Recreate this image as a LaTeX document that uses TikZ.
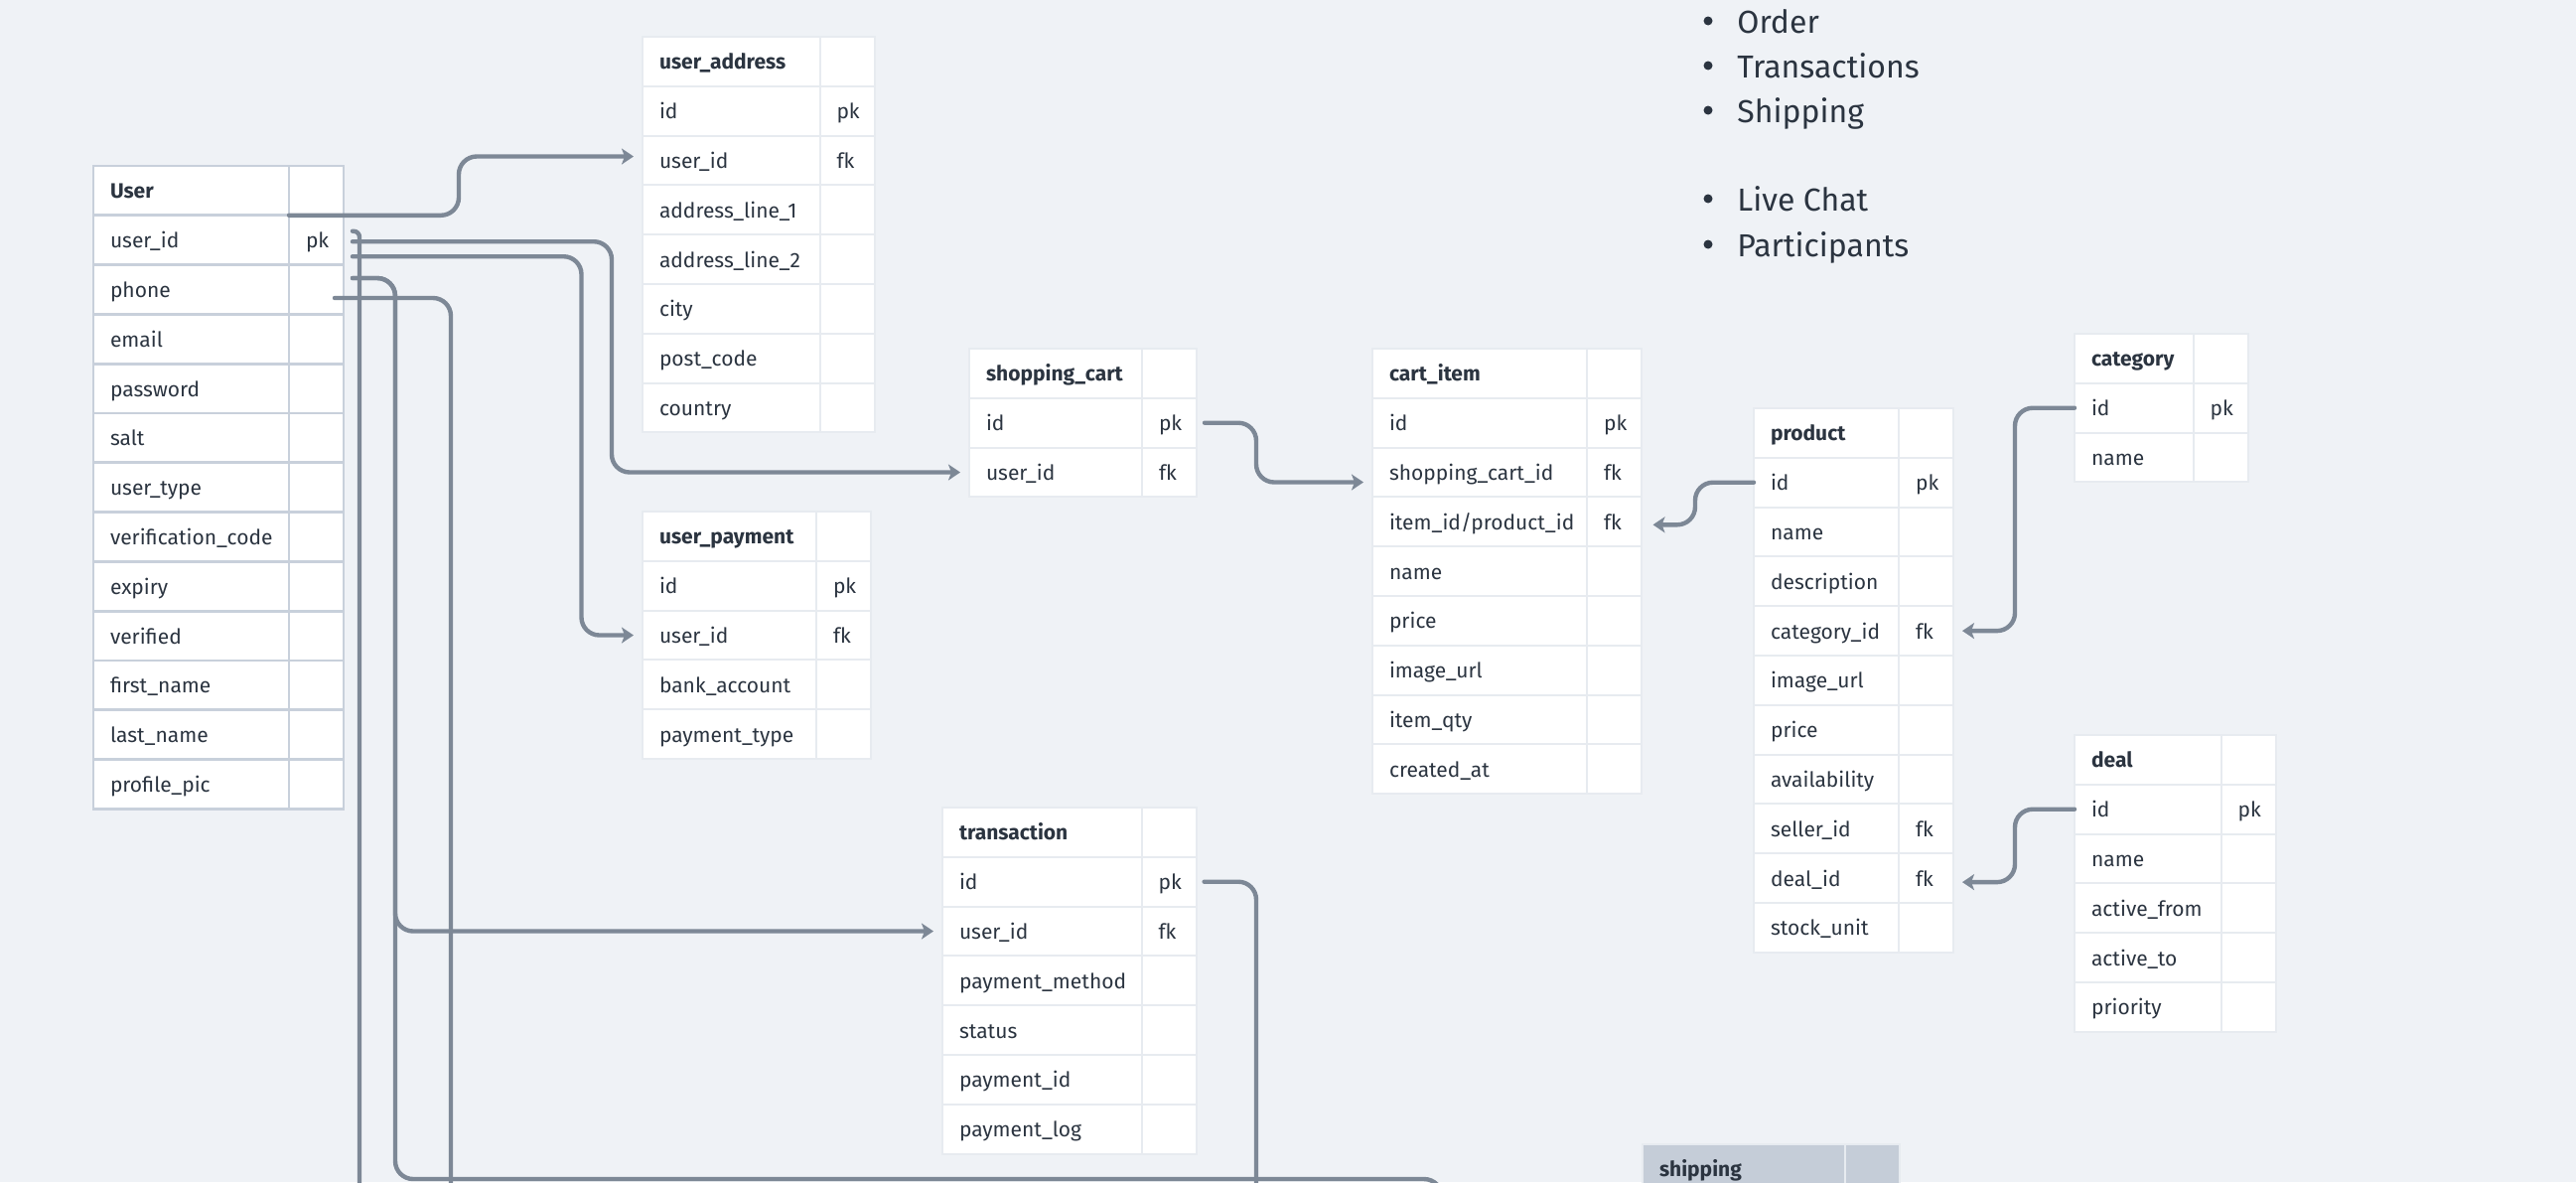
\documentclass[tikz,border=0pt]{standalone}
\usepackage{fontspec}
\setmainfont{Fira Sans}
\usepackage{xcolor}
\usepackage{tikz}
\usetikzlibrary{arrows.meta,positioning,calc}

\definecolor{canvas}{RGB}{239,242,246}
\definecolor{ink}{RGB}{43,52,64}
\definecolor{wire}{RGB}{125,136,150}
\definecolor{gridline}{RGB}{231,235,240}
\definecolor{userline}{RGB}{200,208,219}
\definecolor{headfill}{RGB}{197,205,216}

\begin{document}
\begin{tikzpicture}[
    x=0.5pt, y=-0.5pt,
    sep/.style={draw=gridline, line width=1pt},
    cell/.style={rectangle, sep, fill=white, outer sep=0pt, minimum height=24.9pt, inner xsep=8.5pt, inner ysep=0pt, text height=9pt, text depth=1pt, align=left, text=ink, font=\fontsize{10.5}{12}\selectfont},
    field/.style={cell, text width=#1},
    head/.style={cell, text width=#1, font=\fontsize{10.5}{12}\selectfont\bfseries},
    keycell/.style={cell, text width=10.5pt},
    link/.style={draw=wire, line width=2.2pt, rounded corners=9pt, line cap=round},
    arrow/.style={link, -{Stealth[length=6pt, width=8pt, inset=1.5pt]}},
    topic/.style={text=ink, font=\fontsize{16}{19}\selectfont, inner sep=0pt},
    dot/.style={circle, fill=ink, minimum size=4.5pt, inner sep=0pt}
]
    \path [use as bounding box, fill=canvas] (0,0) rectangle (2594,1190);

    \begin{scope}[sep/.style={draw=userline, line width=1.4pt}]
    \node [head=81.5pt, anchor=north west] (user-0) at (94,167) {User};
    \node [keycell, right=0pt of user-0] (user-0-k) {};
    \foreach \f/\k [count=\i, remember=\i as \j (initially 0)] in {user\_id/pk, phone/{}, email/{}, password/{}, salt/{}, user\_type/{}, verification\_code/{}, expiry/{}, verified/{}, first\_name/{}, last\_name/{}, profile\_pic/{}}
    {
        \node [field=81.5pt, below=0pt of user-\j] (user-\i) {\mbox{\f}};
        \node [keycell, right=0pt of user-\i] (user-\i-k) {\k};
    }
    \end{scope}

    \node [head=72.25pt, anchor=north west] (ua-0) at (647,37) {user\_address};
    \node [keycell, right=0pt of ua-0] (ua-0-k) {};
    \foreach \f/\k [count=\i, remember=\i as \j (initially 0)] in {id/pk, user\_id/fk, address\_line\_1/{}, address\_line\_2/{}, city/{}, post\_code/{}, country/{}}
    {
        \node [field=72.25pt, below=0pt of ua-\j] (ua-\i) {\mbox{\f}};
        \node [keycell, right=0pt of ua-\i] (ua-\i-k) {\k};
    }

    \node [head=70.5pt, anchor=north west] (up-0) at (647,515) {user\_payment};
    \node [keycell, right=0pt of up-0] (up-0-k) {};
    \foreach \f/\k [count=\i, remember=\i as \j (initially 0)] in {id/pk, user\_id/fk, bank\_account/{}, payment\_type/{}}
    {
        \node [field=70.5pt, below=0pt of up-\j] (up-\i) {\mbox{\f}};
        \node [keycell, right=0pt of up-\i] (up-\i-k) {\k};
    }

    \node [head=70pt, anchor=north west] (sc-0) at (976,351) {shopping\_cart};
    \node [keycell, right=0pt of sc-0] (sc-0-k) {};
    \foreach \f/\k [count=\i, remember=\i as \j (initially 0)] in {id/pk, user\_id/fk}
    {
        \node [field=70pt, below=0pt of sc-\j] (sc-\i) {\mbox{\f}};
        \node [keycell, right=0pt of sc-\i] (sc-\i-k) {\k};
    }

    \node [head=91pt, anchor=north west] (ci-0) at (1382,351) {cart\_item};
    \node [keycell, right=0pt of ci-0] (ci-0-k) {};
    \foreach \f/\k [count=\i, remember=\i as \j (initially 0)] in {id/pk, shopping\_cart\_id/fk, {item\_id/product\_id}/fk, name/{}, price/{}, image\_url/{}, item\_qty/{}, created\_at/{}}
    {
        \node [field=91pt, below=0pt of ci-\j] (ci-\i) {\mbox{\f}};
        \node [keycell, right=0pt of ci-\i] (ci-\i-k) {\k};
    }

    \node [head=56pt, anchor=north west] (pr-0) at (1766,411) {product};
    \node [keycell, right=0pt of pr-0] (pr-0-k) {};
    \foreach \f/\k [count=\i, remember=\i as \j (initially 0)] in {id/pk, name/{}, description/{}, category\_id/fk, image\_url/{}, price/{}, availability/{}, seller\_id/fk, deal\_id/fk, stock\_unit/{}}
    {
        \node [field=56pt, below=0pt of pr-\j] (pr-\i) {\mbox{\f}};
        \node [keycell, right=0pt of pr-\i] (pr-\i-k) {\k};
    }

    \node [head=42.75pt, anchor=north west] (cat-0) at (2089,336) {category};
    \node [keycell, right=0pt of cat-0] (cat-0-k) {};
    \foreach \f/\k [count=\i, remember=\i as \j (initially 0)] in {id/pk, name/{}}
    {
        \node [field=42.75pt, below=0pt of cat-\j] (cat-\i) {\mbox{\f}};
        \node [keycell, right=0pt of cat-\i] (cat-\i-k) {\k};
    }

    \node [head=56.8pt, anchor=north west] (deal-0) at (2089,740) {deal};
    \node [keycell, right=0pt of deal-0] (deal-0-k) {};
    \foreach \f/\k [count=\i, remember=\i as \j (initially 0)] in {id/pk, name/{}, active\_from/{}, active\_to/{}, priority/{}}
    {
        \node [field=56.8pt, below=0pt of deal-\j] (deal-\i) {\mbox{\f}};
        \node [keycell, right=0pt of deal-\i] (deal-\i-k) {\k};
    }

    \node [head=83.3pt, anchor=north west] (tr-0) at (949,813) {transaction};
    \node [keycell, right=0pt of tr-0] (tr-0-k) {};
    \foreach \f/\k [count=\i, remember=\i as \j (initially 0)] in {id/pk, user\_id/fk, payment\_method/{}, status/{}, payment\_id/{}, payment\_log/{}}
    {
        \node [field=83.3pt, below=0pt of tr-\j] (tr-\i) {\mbox{\f}};
        \node [keycell, right=0pt of tr-\i] (tr-\i-k) {\k};
    }

    \node [head=85pt, fill=headfill, anchor=north west] (ship-0) at (1654,1152) {shipping};
    \node [keycell, fill=headfill, right=0pt of ship-0] (ship-0-k) {};

    \foreach \t/\y [count=\i] in {Order/33, Transactions/78, Shipping/123, Live Chat/212, Participants/258}
    {
        \node [dot] (dot-\i) at (1720,\y-12) {};
        \node [topic, anchor=base west] (topic-\i) at (1749,\y) {\t};
    }

    \coordinate (off-a) at (362,1200);
    \coordinate (off-b) at (454,1200);
    \coordinate (off-c) at (1265,1200);
    \coordinate (off-d) at (1452,1200);

    \draw [arrow] (user-0-k.south west) -- ++(171,0) |- ($(ua-2.west)+(-9,-4)$);
    \draw [link, rounded corners=3pt] ($(user-1-k.east)+(9,-9)$) -| (off-a);
    \draw [arrow] ($(user-1-k.east)+(9,1.5)$) -| ($(sc-2.west)+(-360,0)$) -- ($(sc-2.west)+(-9,0)$);
    \draw [arrow] ($(user-1-k.east)+(9,16.5)$) -| ($(up-2.west)+(-61.5,0)$) -- ($(up-2.west)+(-9,0)$);
    \draw [arrow] ($(user-2-k.east)+(9,-11.5)$) -| ($(tr-2.west)+(-551,0)$) -- ($(tr-2.west)+(-9,0)$);
    \draw [link] ($(user-2-k.east)+(9,-11.5)$) -| (398,1187) -| (off-d);
    \draw [link] ($(user-2-k.east)+(-9,8.5)$) -| (off-b);
    \draw [arrow] ($(sc-1-k.east)+(8,0)$) -| ($(ci-2.west)+(-117,10)$) -- ($(ci-2.west)+(-9,10)$);
    \draw [link] ($(tr-1-k.east)+(8,0)$) -| (off-c);
    \draw [arrow] (pr-1.west) -| ($(ci-3-k.east)+(54,3)$) -- ($(ci-3-k.east)+(11.5,3)$);
    \draw [arrow] (cat-1.west) -| ($(pr-4-k.east)+(62,0)$) -- ($(pr-4-k.east)+(9,0)$);
    \draw [arrow] (deal-1.west) -| ($(pr-9-k.east)+(62,4)$) -- ($(pr-9-k.east)+(9,4)$);
\end{tikzpicture}
\end{document}
